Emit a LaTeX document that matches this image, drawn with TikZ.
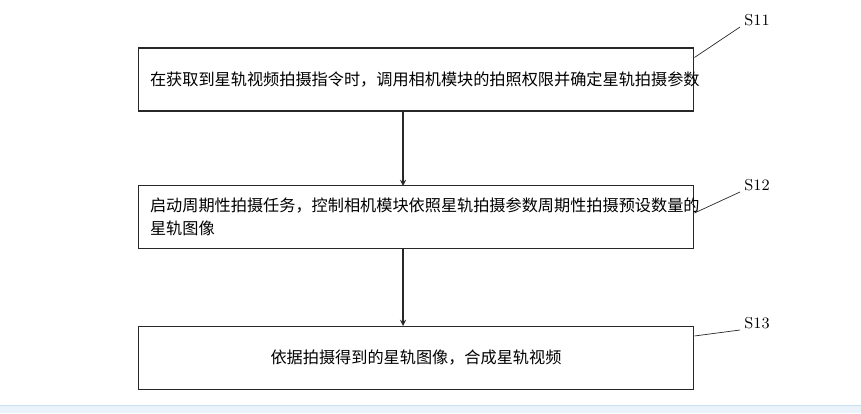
\documentclass[tikz,border=0pt]{standalone}
\usepackage{fontspec}
\newfontfamily\cjk{Noto Sans CJK SC}
\usetikzlibrary{positioning}
\definecolor{stepline}{RGB}{40,40,40}
\definecolor{edgeblue}{RGB}{200,225,240}

\begin{document}
\begin{tikzpicture}[
  x=0.02cm, y=-0.02cm,
  stepbox/.style={rectangle, draw=stepline, line width=0.6pt, minimum width=11.12cm, minimum height=1.26cm, font=\cjk\fontsize{9.2}{13}\selectfont, inner sep=0.24cm},
  arrow/.style={->, >=stealth, line width=0.6pt, color=stepline},
  tag/.style={font=\fontsize{9}{11}\selectfont}
]
\useasboundingbox (0,0) rectangle (861,413);
\fill[edgeblue!40] (0,405) rectangle (861,413);
\draw[edgeblue] (0,405) -- (861,405);

% Steps
\node[stepbox, align=left, text width=10.64cm] (s1) at (416,79.5) {在获取到星轨视频拍摄指令时，调用相机模块的拍照权限并确定星轨拍摄参数};
\node[stepbox, align=left, text width=10.64cm] (s2) at (416,217) {启动周期性拍摄任务，控制相机模块依照星轨拍摄参数周期性拍摄预设数量的\\星轨图像};
\node[stepbox, align=center, text width=10.64cm] (s3) at (416,358) {依据拍摄得到的星轨图像，合成星轨视频};

% Flow arrows
\draw[arrow] (403,111) -- (403,186);
\draw[arrow] (403,248) -- (403,326);

% Step tags
\node[tag] (t1) at (757,20) {S11};
\node[tag] (t2) at (757,185) {S12};
\node[tag] (t3) at (757,323) {S13};
\coordinate (c1) at (740,27);
\coordinate (c2) at (740,192);
\coordinate (c3) at (740,330);
\draw[stepline] (s1.north east) ++(0,10) -- (c1);
\draw[stepline] (s2.north east) ++(0,28) -- (c2);
\draw[stepline] (s3.north east) ++(0,10) -- (c3);
\end{tikzpicture}
\end{document}
